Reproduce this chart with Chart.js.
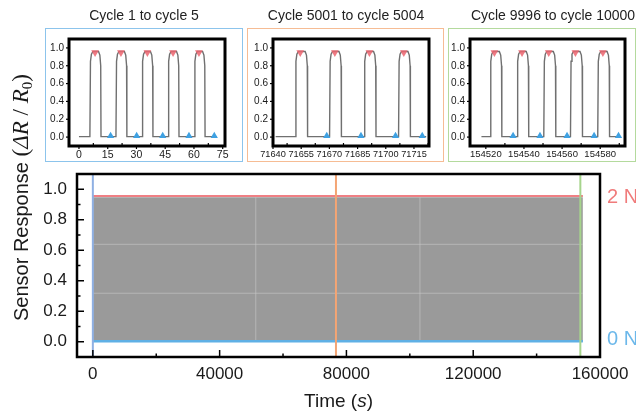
<!DOCTYPE html>
<html>
<head>
<meta charset="utf-8">
<script src="https://cdn.jsdelivr.net/npm/chart.js@4.4.1/dist/chart.umd.min.js"></script>
<style>
  html, body { margin: 0; padding: 0; background: #fff; }
  #wrap { position: relative; width: 636px; height: 416px; overflow: hidden;
          font-family: 'Liberation Sans', Arial, Helvetica, sans-serif; }
  canvas { position: absolute; }
  .box { position: absolute; top: 28px; height: 134px; box-sizing: border-box; border: 1.5px solid; }
  .ttl { position: absolute; top: 7px; font-size: 14px; line-height: 16px; color: #222;
         white-space: nowrap; transform: translateX(-50%); }
</style>
</head>
<body>
<div id="wrap">
  <canvas id="main" width="636" height="416" style="left:0;top:0"></canvas>

  <div class="box" style="left:45px;width:198px;border-color:#8cc4ec"></div>
  <div class="box" style="left:247px;width:197px;border-color:#f6bc94"></div>
  <div class="box" style="left:448px;width:188px;border-color:#b4da9d"></div>

  <div class="ttl" style="left:144px">Cycle 1 to cycle 5</div>
  <div class="ttl" style="left:346px">Cycle 5001 to cycle 5004</div>
  <div class="ttl" style="left:553px">Cycle 9996 to cycle 10000</div>

  <canvas id="cyc1" width="198" height="133" style="left:45px;top:28px"></canvas>
  <canvas id="cyc2" width="197" height="133" style="left:247px;top:28px"></canvas>
  <canvas id="cyc3" width="188" height="133" style="left:448px;top:28px"></canvas>
</div>

<script>
// ---- main panel: the 10000 cycles over the whole test ----
const fullTime = [0, 154600];
const peakResp = [0.955, 0.955];      // red trace of the 2 N peaks
const bodyResp = [0.947, 0.947];      // top of the dense grey trace
const baseResp = [0.003, 0.003];      // blue trace of the 0 N valleys
const seamTime = [51400, 103200];     // faint light seams inside the dense trace
const seamResp = [0.318, 0.639];
const windowTime = [0, 76700, 153800]; // where the three zoomed windows sit
const windowColors = ['#8fb0e3', '#f4a574', '#a6d48c'];

const mainXTicks = [0, 40000, 80000, 120000, 160000];
const mainXMinor = [20000, 60000, 100000, 140000];
const mainYTicks = [0, 0.2, 0.4, 0.6, 0.8, 1.0];
const mainYMinor = [0.1, 0.3, 0.5, 0.7, 0.9];

// ---- inset 1: cycle 1 to cycle 5 ----
const cyc1Time = [0,
  5.7, 6.0, 6.5, 7.3, 10.2, 10.9, 11.35, 11.5,
  19.3, 19.6, 20.1, 20.9, 23.7, 24.4, 24.85, 25.0,
  32.9, 33.2, 33.7, 34.5, 37.3, 38.0, 38.45, 38.6,
  46.5, 46.8, 47.3, 48.1, 50.9, 51.6, 52.05, 52.2,
  60.2, 60.5, 61.0, 61.8, 64.5, 65.2, 65.65, 65.8,
  71.9];
const cyc1Resp = [0.005,
  0.005, 0.85, 0.93, 0.96, 0.96, 0.92, 0.80, 0.005,
  0.005, 0.85, 0.93, 0.96, 0.96, 0.92, 0.80, 0.005,
  0.005, 0.85, 0.93, 0.96, 0.96, 0.92, 0.80, 0.005,
  0.005, 0.85, 0.93, 0.96, 0.96, 0.92, 0.80, 0.005,
  0.005, 0.85, 0.93, 0.96, 0.96, 0.92, 0.80, 0.005,
  0.005];
const cyc1Peaks = [8.4, 21.9, 35.7, 49.1, 62.6];
const cyc1Valleys = [16.5, 30.1, 43.7, 57.4, 70.6];
const cyc1Ticks = [0, 15, 30, 45, 60, 75];
const cyc1Minor = [7.5, 22.5, 37.5, 52.5, 67.5];

// ---- inset 2: cycle 5001 to cycle 5004 ----
const cyc2Time = [71641.4,
  71651.9, 71652.2, 71652.7, 71653.5, 71657.1, 71657.8, 71658.25, 71658.4,
  71670.1, 71670.4, 71670.9, 71671.7, 71675.1, 71675.8, 71676.25, 71676.4,
  71688.5, 71688.8, 71689.3, 71690.1, 71693.5, 71694.2, 71694.65, 71694.8,
  71706.8, 71707.1, 71707.6, 71708.4, 71711.8, 71712.5, 71712.95, 71713.1,
  71721.5];
const cyc2Resp = [0.005,
  0.005, 0.85, 0.93, 0.96, 0.96, 0.92, 0.80, 0.005,
  0.005, 0.85, 0.93, 0.96, 0.96, 0.92, 0.80, 0.005,
  0.005, 0.85, 0.93, 0.96, 0.96, 0.92, 0.80, 0.005,
  0.005, 0.85, 0.93, 0.96, 0.96, 0.92, 0.80, 0.005,
  0.005];
const cyc2Peaks = [71654.5, 71672.9, 71691.3, 71709.6];
const cyc2Valleys = [71668.6, 71686.8, 71705.2, 71719.4];
const cyc2Ticks = [71640, 71655, 71670, 71685, 71700, 71715];
const cyc2Minor = [71647.5, 71662.5, 71677.5, 71692.5, 71707.5, 71722.5];

// ---- inset 3: cycle 9996 to cycle 10000 ----
const cyc3Time = [154517.7,
  154522.3, 154522.6, 154523.1, 154523.9, 154527.1, 154527.8, 154528.25, 154528.4,
  154536.4, 154536.7, 154537.2, 154538.0, 154541.2, 154541.9, 154542.35, 154542.5,
  154550.4, 154550.7, 154551.2, 154552.0, 154555.4, 154556.1, 154556.55, 154556.7,
  154564.4, 154564.7, 154565.2, 154566.0, 154569.4, 154570.1, 154570.55, 154570.7,
  154578.7, 154579.0, 154579.5, 154580.3, 154583.6, 154584.3, 154584.75, 154584.9,
  154590.5];
const cyc3Resp = [0.005,
  0.005, 0.85, 0.93, 0.96, 0.96, 0.92, 0.80, 0.005,
  0.005, 0.85, 0.93, 0.96, 0.96, 0.92, 0.80, 0.005,
  0.005, 0.85, 0.93, 0.96, 0.96, 0.92, 0.80, 0.005,
  0.005, 0.85, 0.93, 0.96, 0.96, 0.92, 0.80, 0.005,
  0.005, 0.85, 0.93, 0.96, 0.96, 0.92, 0.80, 0.005,
  0.005];
const cyc3Peaks = [154524.5, 154539.0, 154553.0, 154567.0, 154581.4];
const cyc3Valleys = [154534.3, 154548.4, 154562.6, 154576.8, 154589.6];
const cyc3Ticks = [154520, 154540, 154560, 154580];
const cyc3Minor = [154530, 154550, 154570, 154590];

const insetYTicks = [0, 0.2, 0.4, 0.6, 0.8, 1.0];
const PEAK_LEVEL = 0.95;
const VALLEY_LEVEL = 0.012;

Chart.defaults.font.family = "'Liberation Sans', Arial, Helvetica, sans-serif";
Chart.defaults.color = '#1a1a1a';
Chart.defaults.animation = false;

const pts = (xs, ys) => xs.map((x, i) => ({ x: x, y: ys[i] }));
const fixedTicks = arr => scale => { scale.ticks = arr.map(v => ({ value: v })); };

// small helper for tick marks drawn on the frame
function tickMarks(ctx, chart, axis, values, len, inward) {
  const a = chart.chartArea;
  const s = chart.scales[axis];
  values.forEach(v => {
    const p = s.getPixelForValue(v);
    ctx.beginPath();
    if (axis === 'x') {
      ctx.moveTo(p, a.bottom);
      ctx.lineTo(p, inward ? a.bottom - len : a.bottom + len);
    } else {
      ctx.moveTo(a.left, p);
      ctx.lineTo(inward ? a.left + len : a.left - len, p);
    }
    ctx.stroke();
  });
}

// draw a run of text pieces with different fonts, starting at (0,0)
function drawRich(ctx, parts, align) {
  let total = 0;
  parts.forEach(p => { ctx.font = p.font; p.w = ctx.measureText(p.text).width; total += p.w; });
  let x = align === 'center' ? -total / 2 : 0;
  parts.forEach(p => {
    ctx.font = p.font;
    ctx.fillText(p.text, x, p.dy || 0);
    x += p.w;
  });
}

const mainDecor = {
  id: 'mainDecor',
  afterDatasetsDraw(chart) {
    const ctx = chart.ctx, a = chart.chartArea, ys = chart.scales.y;
    ctx.save();
    ctx.strokeStyle = '#000';
    ctx.lineWidth = 1.5;
    tickMarks(ctx, chart, 'x', mainXTicks, 7, true);
    tickMarks(ctx, chart, 'x', mainXMinor, 3.5, true);
    tickMarks(ctx, chart, 'y', mainYTicks, 7, true);
    tickMarks(ctx, chart, 'y', mainYMinor, 3.5, true);
    ctx.lineWidth = 2.5;
    ctx.strokeRect(a.left, a.top, a.right - a.left, a.bottom - a.top);

    // right hand force labels
    ctx.font = "20px 'Liberation Sans', Arial";
    ctx.textBaseline = 'middle';
    ctx.textAlign = 'left';
    ctx.fillStyle = '#f07b7b';
    ctx.fillText('2 N', a.right + 7, ys.getPixelForValue(peakResp[0]) + 1);
    ctx.fillStyle = '#6cb8ea';
    ctx.fillText('0 N', a.right + 7, ys.getPixelForValue(baseResp[0]) - 2);

    // axis titles
    ctx.fillStyle = '#1a1a1a';
    ctx.textAlign = 'left';
    ctx.textBaseline = 'alphabetic';
    const n = "19px 'Liberation Sans', Arial";
    const it = "italic 19px 'Liberation Sans', Arial";
    ctx.save();
    ctx.translate((a.left + a.right) / 2, 407);
    drawRich(ctx, [{ text: 'Time (', font: n }, { text: 's', font: it }, { text: ')', font: n }], 'center');
    ctx.restore();

    const yn = "20px 'Liberation Sans', Arial";
    const yi = "italic 23px 'Liberation Serif', 'Times New Roman', serif";
    const yp = "23px 'Liberation Serif', 'Times New Roman', serif";
    const ysub = "15px 'Liberation Serif', 'Times New Roman', serif";
    ctx.save();
    ctx.translate(28, 321);
    ctx.rotate(-Math.PI / 2);
    drawRich(ctx, [
      { text: 'Sensor Response ', font: yn },
      { text: '(', font: yp },
      { text: 'ΔR', font: yi },
      { text: ' / ', font: yp },
      { text: 'R', font: yi },
      { text: '0', font: ysub, dy: 4 },
      { text: ')', font: yp }
    ], 'left');
    ctx.restore();
    ctx.restore();
  }
};

const mainDatasets = [];
windowTime.forEach((t, i) => {
  mainDatasets.push({
    data: pts([t, t], [-0.1, 1.1]),
    borderColor: windowColors[i], borderWidth: 2, pointRadius: 0, order: 0
  });
});
mainDatasets.push({ data: pts(fullTime, baseResp), borderColor: '#5fb0e5', borderWidth: 2.5, pointRadius: 0, order: 1 });
mainDatasets.push({ data: pts(fullTime, peakResp), borderColor: '#ef7f84', borderWidth: 2, pointRadius: 0, order: 1 });
seamTime.forEach(t => {
  mainDatasets.push({ data: pts([t, t], [0, bodyResp[0]]), borderColor: 'rgba(200,200,200,0.6)', borderWidth: 1, pointRadius: 0, order: 2 });
});
seamResp.forEach(v => {
  mainDatasets.push({ data: pts(fullTime, [v, v]), borderColor: 'rgba(200,200,200,0.6)', borderWidth: 1, pointRadius: 0, order: 2 });
});
mainDatasets.push({
  data: pts(fullTime, bodyResp), borderColor: '#9a9a9a', borderWidth: 0,
  backgroundColor: '#9a9a9a', fill: 'origin', pointRadius: 0, order: 3
});

new Chart(document.getElementById('main'), {
  type: 'scatter',
  data: { datasets: mainDatasets.map(d => Object.assign({ showLine: true }, d)) },
  options: {
    responsive: false,
    layout: { padding: { top: 174, right: 36, left: 0, bottom: 0 } },
    plugins: { legend: { display: false }, tooltip: { enabled: false } },
    scales: {
      x: {
        type: 'linear', min: -5000, max: 160000,
        afterBuildTicks: fixedTicks(mainXTicks),
        afterFit: s => { s.height = 59; },
        grid: { display: false, drawTicks: false },
        border: { display: false },
        ticks: { font: { size: 17 }, color: '#1a1a1a', padding: 7, maxRotation: 0, autoSkip: false,
                 callback: v => String(v) }
      },
      y: {
        type: 'linear', min: -0.1, max: 1.1,
        afterBuildTicks: fixedTicks(mainYTicks),
        afterFit: s => { s.width = 77; },
        grid: { display: false, drawTicks: false },
        border: { display: false },
        ticks: { font: { size: 17 }, color: '#1a1a1a', padding: 10, callback: v => v.toFixed(1) }
      }
    }
  },
  plugins: [mainDecor]
});

// ---- the three zoomed windows ----
function makeInset(id, o) {
  const decor = {
    id: 'insetDecor',
    afterDatasetsDraw(chart) {
      const ctx = chart.ctx, a = chart.chartArea;
      ctx.save();
      ctx.strokeStyle = '#000';
      ctx.lineWidth = 1.2;
      tickMarks(ctx, chart, 'y', insetYTicks, 3, false);
      tickMarks(ctx, chart, 'x', o.ticks, 3, false);
      tickMarks(ctx, chart, 'x', o.minor, 3, true);
      ctx.lineWidth = 3;
      ctx.strokeRect(a.left, a.top, a.right - a.left, a.bottom - a.top);
      ctx.restore();
    }
  };
  return new Chart(document.getElementById(id), {
    type: 'scatter',
    data: {
      datasets: [
        { data: pts(o.peaks, o.peaks.map(() => PEAK_LEVEL)), pointStyle: 'triangle', rotation: 180,
          pointRadius: 4.5, backgroundColor: 'rgba(236,100,110,0.85)', borderWidth: 0, order: 0 },
        { data: pts(o.valleys, o.valleys.map(() => VALLEY_LEVEL)), pointStyle: 'triangle',
          pointRadius: 4.2, backgroundColor: '#3fa1e2', borderWidth: 0, order: 0 },
        { data: pts(o.time, o.resp), showLine: true, borderColor: '#707070', borderWidth: 1.4,
          pointRadius: 0, order: 1 }
      ]
    },
    options: {
      responsive: false,
      layout: { padding: { top: o.padT, right: o.padR, left: 0, bottom: 0 } },
      plugins: { legend: { display: false }, tooltip: { enabled: false } },
      scales: {
        x: {
          type: 'linear', min: o.min, max: o.max,
          afterBuildTicks: fixedTicks(o.ticks),
          afterFit: s => { s.height = 15; },
          grid: { display: false, drawTicks: false },
          border: { display: false },
          ticks: { font: { size: o.xFont }, color: '#1a1a1a', padding: 3, maxRotation: 0, minRotation: 0,
                   autoSkip: false, callback: v => String(v) }
        },
        y: {
          type: 'linear', min: -0.1, max: 1.1,
          afterBuildTicks: fixedTicks(insetYTicks),
          afterFit: s => { s.width = o.yw; },
          grid: { display: false, drawTicks: false },
          border: { display: false },
          ticks: { font: { size: 10 }, color: '#1a1a1a', padding: 5, callback: v => v.toFixed(1) }
        }
      }
    },
    plugins: [decor]
  });
}

makeInset('cyc1', { time: cyc1Time, resp: cyc1Resp, peaks: cyc1Peaks, valleys: cyc1Valleys,
  ticks: cyc1Ticks, minor: cyc1Minor, min: -5.2, max: 76.2, yw: 24, padR: 18, padT: 9, xFont: 10.5 });
makeInset('cyc2', { time: cyc2Time, resp: cyc2Resp, peaks: cyc2Peaks, valleys: cyc2Valleys,
  ticks: cyc2Ticks, minor: cyc2Minor, min: 71640, max: 71723, yw: 26, padR: 15, padT: 10, xFont: 9.2 });
makeInset('cyc3', { time: cyc3Time, resp: cyc3Resp, peaks: cyc3Peaks, valleys: cyc3Valleys,
  ticks: cyc3Ticks, minor: cyc3Minor, min: 154511.7, max: 154593, yw: 22, padR: 11, padT: 10, xFont: 9.5 });
</script>
</body>
</html>
